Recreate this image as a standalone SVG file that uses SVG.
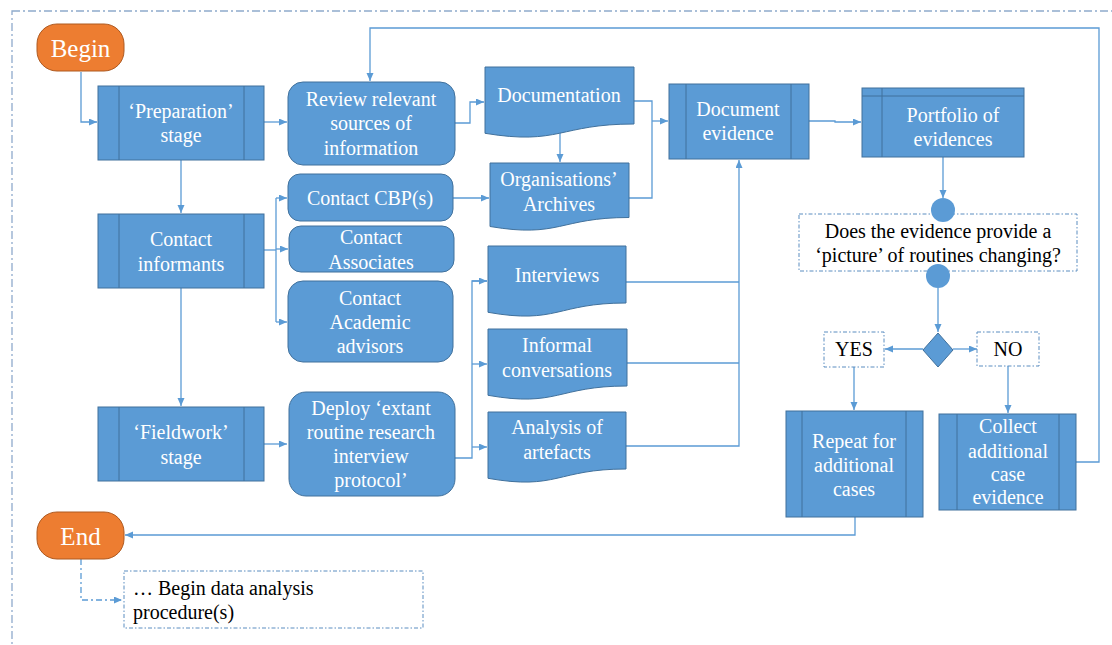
<svg xmlns="http://www.w3.org/2000/svg" width="1112" height="645" viewBox="0 0 1112 645" font-family="'Liberation Serif', 'Times New Roman', serif">
<defs>
<style>
text{font-family:'Liberation Serif','Times New Roman',serif}
.t{font-size:20px;fill:#fff;text-anchor:middle}
.k{fill:#000}
.big{font-size:25px}
.b{fill:#5B9BD5;stroke:#41719C;stroke-width:1}
.o{fill:#ED7D31;stroke:#AE5A21;stroke-width:1}
.in{fill:none;stroke:#41719C;stroke-width:1}
.c{fill:none;stroke:#5B9BD5;stroke-width:1.3}
.d{fill:none;stroke:#5B9BD5;stroke-width:1.3;stroke-dasharray:6 3 2 3}
.box{fill:#fff;stroke:#5B8DC0;stroke-width:1;stroke-dasharray:4 2 1.5 2}
</style>
<marker id="a" markerUnits="userSpaceOnUse" markerWidth="9" markerHeight="8" refX="8" refY="3.5" orient="auto">
<path d="M0,0 L8,3.5 L0,7 z" fill="#5B9BD5"/>
</marker>
</defs>
<rect width="1112" height="645" fill="#fff"/>
<rect x="12" y="11" width="1110" height="660" fill="none" stroke="#8FAACC" stroke-width="1.3" stroke-dasharray="8 3 2 3"/>

<g id="connectors">
<path class="c" d="M81,72 V122 H97" marker-end="url(#a)"/>
<path class="c" d="M264,122 H287" marker-end="url(#a)"/>
<path class="c" d="M181,160 V213" marker-end="url(#a)"/>
<path class="c" d="M181,288 V406" marker-end="url(#a)"/>
<path class="c" d="M264,250 H276"/>
<path class="c" d="M276,198 V322"/>
<path class="c" d="M276,198 H287" marker-end="url(#a)"/>
<path class="c" d="M276,249 H288" marker-end="url(#a)"/>
<path class="c" d="M276,322 H287" marker-end="url(#a)"/>
<path class="c" d="M264,444 H287" marker-end="url(#a)"/>
<path class="c" d="M455,123 H470 V102 H484" marker-end="url(#a)"/>
<path class="c" d="M560,133 V162" marker-end="url(#a)"/>
<path class="c" d="M453,198 H489" marker-end="url(#a)"/>
<path class="c" d="M634,101 H652 V198 H629"/>
<path class="c" d="M652,121 H668" marker-end="url(#a)"/>
<path class="c" d="M455,458 H472 V281 H487"/>
<path class="c" d="M472,281 H487" marker-end="url(#a)"/>
<path class="c" d="M472,364 H487" marker-end="url(#a)"/>
<path class="c" d="M472,447 H487" marker-end="url(#a)"/>
<path class="c" d="M626,282 H739"/>
<path class="c" d="M627,363 H739"/>
<path class="c" d="M626,446 H739 V160" marker-end="url(#a)"/>
<path class="c" d="M809,121 H835 V122 H861" marker-end="url(#a)"/>
<path class="c" d="M943,157 V198" marker-end="url(#a)"/>
<path class="c" d="M938,288 V332" marker-end="url(#a)"/>
<path class="c" d="M923,349 H885" marker-end="url(#a)"/>
<path class="c" d="M953,349 H977" marker-end="url(#a)"/>
<path class="c" d="M854,367 V410" marker-end="url(#a)"/>
<path class="c" d="M1008,366 V413" marker-end="url(#a)"/>
<path class="c" d="M1076,462 H1099 V28 H370 V81" marker-end="url(#a)"/>
<path class="c" d="M855,517 V535 H125" marker-end="url(#a)"/>
<path class="d" d="M81,559 V600 H122" marker-end="url(#a)"/>
</g>

<g id="begin">
<rect class="o" x="37" y="24" width="87" height="47" rx="20"/>
<text class="t big" x="80.5" y="57">Begin</text>
</g>

<g id="preparation">
<rect class="b" x="98" y="86" width="166" height="74"/>
<path class="in" d="M119,86 V160 M244,86 V160"/>
<text class="t" x="181" y="118">‘Preparation’</text>
<text class="t" x="181" y="142">stage</text>
</g>

<g id="contact-informants">
<rect class="b" x="98" y="214" width="166" height="74"/>
<path class="in" d="M119,214 V288 M244,214 V288"/>
<text class="t" x="181" y="246">Contact</text>
<text class="t" x="181" y="271">informants</text>
</g>

<g id="fieldwork">
<rect class="b" x="98" y="407" width="166" height="74"/>
<path class="in" d="M119,407 V481 M244,407 V481"/>
<text class="t" x="181" y="439">‘Fieldwork’</text>
<text class="t" x="181" y="464">stage</text>
</g>

<g id="review">
<rect class="b" x="288" y="82" width="167" height="83" rx="15"/>
<text class="t" x="371" y="106">Review relevant</text>
<text class="t" x="371" y="130">sources of</text>
<text class="t" x="371" y="155">information</text>
</g>

<g id="contact-cbp">
<rect class="b" x="288" y="174" width="165" height="47" rx="12"/>
<text class="t" x="370" y="205">Contact CBP(s)</text>
</g>

<g id="contact-associates">
<rect class="b" x="289" y="226" width="165" height="46" rx="12"/>
<text class="t" x="371" y="244">Contact</text>
<text class="t" x="371" y="269">Associates</text>
</g>

<g id="contact-academic">
<rect class="b" x="288" y="281" width="165" height="81" rx="15"/>
<text class="t" x="370" y="305">Contact</text>
<text class="t" x="370" y="329">Academic</text>
<text class="t" x="370" y="353">advisors</text>
</g>

<g id="deploy">
<rect class="b" x="289" y="392" width="166" height="104" rx="17"/>
<text class="t" x="371" y="415">Deploy ‘extant</text>
<text class="t" x="371" y="439">routine research</text>
<text class="t" x="371" y="463">interview</text>
<text class="t" x="371" y="487">protocol’</text>
</g>

<g id="documentation">
<path class="b" d="M485,67 H634 V124 C559.5,124 559.5,145.6 485,133.3 Z"/>
<text class="t" x="559" y="102">Documentation</text>
</g>

<g id="archives">
<path class="b" d="M490,163 H629 V217.5 C559.5,217.5 559.5,238.3 490,226.5 Z"/>
<text class="t" x="559" y="186">Organisations’</text>
<text class="t" x="559" y="211">Archives</text>
</g>

<g id="interviews">
<path class="b" d="M488,246 H626 V303 C557,303 557,324.6 488,312.3 Z"/>
<text class="t" x="557" y="282">Interviews</text>
</g>

<g id="informal">
<path class="b" d="M488,329 H627 V386 C557.5,386 557.5,407.6 488,395.3 Z"/>
<text class="t" x="557" y="352">Informal</text>
<text class="t" x="557" y="377">conversations</text>
</g>

<g id="artefacts">
<path class="b" d="M488,412 H626 V469 C557,469 557,490.6 488,478.3 Z"/>
<text class="t" x="557" y="434">Analysis of</text>
<text class="t" x="557" y="459">artefacts</text>
</g>

<g id="document-evidence">
<rect class="b" x="669" y="84" width="140" height="75"/>
<path class="in" d="M686,84 V159 M791,84 V159"/>
<text class="t" x="738" y="116">Document</text>
<text class="t" x="738" y="140">evidence</text>
</g>

<g id="portfolio">
<rect class="b" x="862" y="88" width="162" height="69"/>
<path class="in" d="M862,96 H1024 M882,88 V157"/>
<text class="t" x="953" y="122">Portfolio of</text>
<text class="t" x="953" y="146">evidences</text>
</g>

<g id="question">
<rect class="box" x="799" y="214" width="278" height="57"/>
<circle cx="943" cy="210" r="12" fill="#5B9BD5"/>
<circle cx="938" cy="276" r="12" fill="#5B9BD5"/>
<text class="t k" x="938" y="238">Does the evidence provide a</text>
<text class="t k" x="938" y="262">‘picture’ of routines changing?</text>
</g>

<g id="decision">
<path class="b" d="M938,333 L953,350 L938,367 L923,350 Z"/>
</g>

<g id="yes">
<rect class="box" x="824" y="332" width="60" height="35"/>
<text class="t k" x="854" y="356">YES</text>
</g>

<g id="no">
<rect class="box" x="977" y="332" width="62" height="34"/>
<text class="t k" x="1008" y="356">NO</text>
</g>

<g id="repeat">
<rect class="b" x="786" y="411" width="137" height="106"/>
<path class="in" d="M802,411 V517 M906,411 V517"/>
<text class="t" x="854" y="448">Repeat for</text>
<text class="t" x="854" y="472">additional</text>
<text class="t" x="854" y="496">cases</text>
</g>

<g id="collect">
<rect class="b" x="939" y="414" width="137" height="96"/>
<path class="in" d="M957,414 V510 M1059,414 V510"/>
<text class="t" x="1008" y="433">Collect</text>
<text class="t" x="1008" y="458">additional</text>
<text class="t" x="1008" y="481">case</text>
<text class="t" x="1008" y="504">evidence</text>
</g>

<g id="end">
<rect class="o" x="37" y="512" width="87" height="47" rx="20"/>
<text class="t big" x="80.5" y="545">End</text>
</g>

<g id="next-step">
<rect class="box" x="124" y="571" width="299" height="57"/>
<text class="t k" x="133" y="595" style="text-anchor:start">… Begin data analysis</text>
<text class="t k" x="133" y="619" style="text-anchor:start">procedure(s)</text>
</g>
</svg>
